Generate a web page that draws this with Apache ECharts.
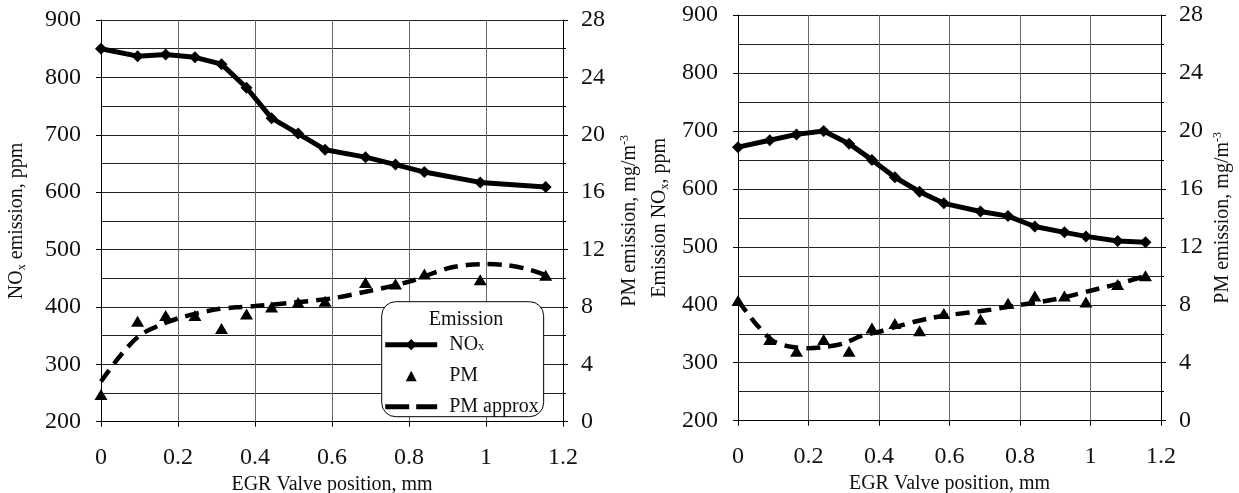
<!DOCTYPE html>
<html>
<head>
<meta charset="utf-8">
<script src="https://cdn.jsdelivr.net/npm/echarts@6/dist/echarts.min.js"></script>
<style>
html,body{margin:0;padding:0;background:#fff;}
#chart{width:1239px;height:493px;}
</style>
</head>
<body>
<div id="chart"></div>
<script>
// ---- Left chart data ----
const xLeft = [0, 0.095, 0.168, 0.244, 0.313, 0.378, 0.443, 0.512, 0.582, 0.687, 0.765, 0.84, 0.985, 1.155];
const noxLeft = [850, 837, 840, 835, 823, 782, 729, 702, 674, 661, 648, 635, 617, 609];
const pmLeft = [1.9, 7.0, 7.4, 7.4, 6.5, 7.5, 8.0, 8.3, 8.4, 9.7, 9.6, 10.3, 9.9, 10.2];
const pmApproxXLeft = [0, 0.05, 0.1, 0.15, 0.2, 0.25, 0.3, 0.35, 0.4, 0.5, 0.6, 0.7, 0.8, 0.9, 0.95, 1.0, 1.05, 1.1, 1.155];
const pmApproxLeft = [2.8, 4.6, 6.0, 6.7, 7.2, 7.55, 7.83, 7.97, 8.06, 8.3, 8.6, 9.13, 9.76, 10.69, 10.92, 10.99, 10.92, 10.69, 10.22];

// ---- Right chart data ----
const xRight = [0, 0.09, 0.166, 0.243, 0.315, 0.38, 0.445, 0.515, 0.584, 0.688, 0.766, 0.842, 0.926, 0.987, 1.077, 1.156];
const noxRight = [672, 684, 694, 700, 678, 650, 620, 595, 575, 561, 553, 535, 525, 518, 510, 508];
const pmRight = [8.3, 5.6, 4.8, 5.6, 4.8, 6.4, 6.7, 6.2, 7.4, 7.0, 8.1, 8.6, 8.6, 8.2, 9.4, 10.0];
const pmApproxXRight = [0, 0.05, 0.1, 0.15, 0.2, 0.25, 0.3, 0.35, 0.4, 0.45, 0.5, 0.55, 0.6, 0.7, 0.8, 0.9, 1.0, 1.1, 1.156];
const pmApproxRight = [8.3, 6.7, 5.5, 5.1, 5.0, 5.1, 5.34, 5.85, 6.14, 6.49, 6.83, 7.1, 7.3, 7.6, 7.99, 8.38, 8.97, 9.59, 9.99];

// ---- Axis settings ----
const xMin = 0, xMax = 1.2, xStep = 0.2;
const noxMin = 200, noxMax = 900, noxStep = 100;
const pmMin = 0, pmMax = 28, pmStep = 4;

const seriesNames = ['NOx', 'PM', 'PM approx'];
const FONT = "'Liberation Serif', 'Times New Roman', serif";
const INK = '#111';

function pairs(xs, ys) { return xs.map((x, i) => [x, ys[i]]); }

const richName = {
  n: {fontFamily: FONT, fontSize: 20, color: INK, lineHeight: 22},
  sub: {fontFamily: FONT, fontSize: 12, color: INK, lineHeight: 12, verticalAlign: 'bottom'},
  sup: {fontFamily: FONT, fontSize: 12, color: INK, lineHeight: 12, verticalAlign: 'top'}
};

function xAxisCfg(gridIndex) {
  return {
    type: 'value', gridIndex, min: xMin, max: xMax, interval: xStep,
    name: 'EGR Valve position, mm', nameLocation: 'middle', nameGap: 41,
    nameTextStyle: {fontFamily: FONT, fontSize: 20, color: INK},
    axisLine: {show: true, lineStyle: {color: '#000', width: 1}},
    axisTick: {show: true, length: 5, lineStyle: {color: '#000'}},
    axisLabel: {fontFamily: FONT, fontSize: 24, color: INK, margin: 24},
    splitLine: {show: true, lineStyle: {color: '#666', width: 1}}
  };
}
function noxAxisCfg(gridIndex, name, gap) {
  return {
    type: 'value', gridIndex, position: 'left', min: noxMin, max: noxMax, interval: noxStep,
    name, nameLocation: 'middle', nameRotate: 90, nameGap: gap,
    nameTextStyle: {rich: richName},
    axisLine: {show: true, lineStyle: {color: '#000', width: 1}},
    axisTick: {show: true, length: 5, lineStyle: {color: '#000'}},
    axisLabel: {fontFamily: FONT, fontSize: 24, color: INK, margin: 20},
    splitLine: {show: true, lineStyle: {color: '#222', width: 1}}
  };
}
function pmAxisCfg(gridIndex, name, gap) {
  return {
    type: 'value', gridIndex, position: 'right', min: pmMin, max: pmMax, interval: pmStep,
    name, nameLocation: 'middle', nameRotate: 90, nameGap: gap,
    nameTextStyle: {rich: richName},
    axisLine: {show: true, lineStyle: {color: '#000', width: 1}},
    axisTick: {show: true, length: 5, lineStyle: {color: '#000'}},
    minorTick: {show: true, splitNumber: 2, length: 3, lineStyle: {color: '#000'}},
    axisLabel: {fontFamily: FONT, fontSize: 24, color: INK, margin: 18},
    splitLine: {show: false},
    minorSplitLine: {show: true, lineStyle: {color: '#222', width: 1}}
  };
}

function chartSeries(idx, xs, nox, pm, ax, ay, suffix) {
  return [
    {
      name: seriesNames[0] + suffix, type: 'line', xAxisIndex: idx, yAxisIndex: idx * 2,
      data: pairs(xs, nox), symbol: 'diamond', symbolSize: 12,
      itemStyle: {color: '#000', opacity: 1}, lineStyle: {color: '#000', width: 5}, z: 5
    },
    {
      name: seriesNames[1] + suffix, type: 'scatter', xAxisIndex: idx, yAxisIndex: idx * 2 + 1,
      data: pairs(xs, pm), symbol: 'triangle', symbolSize: [13, 11],
      itemStyle: {color: '#000', opacity: 1}, z: 4
    },
    {
      name: seriesNames[2] + suffix, type: 'line', xAxisIndex: idx, yAxisIndex: idx * 2 + 1,
      data: pairs(ax, ay), smooth: 0.3, showSymbol: false, symbol: 'none',
      itemStyle: {color: '#000', opacity: 1}, lineStyle: {color: '#000', width: 4.5, type: [14, 8]}, z: 3
    }
  ];
}

// legend icons (fixed 52 x 14 box; degenerate points set the box extent)
const triIcon = 'path://M0,0L0,0Z M52,14L52,14Z M20.5,12.5L26,2L31.5,12.5Z';
const dashIcon = 'path://M0,0L0,0Z M52,14L52,14Z M0,4.5h24v5h-24z M31,4.5h21v5h-21z';

const chart = echarts.init(document.getElementById('chart'), null, {renderer: 'canvas'});
const option = {
  animation: false,
  backgroundColor: '#fff',
  title: [{
    text: 'Emission', left: 461, top: 305, textAlign: 'center', z: 10,
    textStyle: {fontFamily: FONT, fontSize: 20, fontWeight: 'normal', color: INK}
  }],
  grid: [
    {left: 101, top: 20, width: 462, height: 401.7, containLabel: false, outerBoundsMode: 'none'},
    {left: 738, top: 15, width: 423, height: 405.7, containLabel: false, outerBoundsMode: 'none'}
  ],
  xAxis: [xAxisCfg(0), xAxisCfg(1)],
  yAxis: [
    noxAxisCfg(0, '{n|NO}{sub|x}{n| emission, ppm}', 73),
    pmAxisCfg(0, '{n|PM emission, mg/m}{sup|-3}', 56),
    noxAxisCfg(1, '{n|Emission NO}{sub|x}{n|, ppm}', 67),
    pmAxisCfg(1, '{n|PM emission, mg/m}{sup|-3}', 51)
  ],
  legend: {
    show: true, orient: 'vertical', left: 381.7, top: 301.7,
    data: [
      {name: seriesNames[0]},
      {name: seriesNames[1], icon: triIcon},
      {name: seriesNames[2], icon: dashIcon}
    ],
    itemWidth: 52, itemHeight: 14, itemGap: 11,
    padding: [33, 5, 0, 1],
    backgroundColor: '#fff', borderColor: '#000', borderWidth: 1, borderRadius: 14,
    lineStyle: {width: 5},
    itemStyle: {color: '#000', opacity: 1},
    formatter: name => name === 'NOx' ? '{n|NO}{sub|x}' : '{n|' + name + '}',
    textStyle: {
      padding: [0, 0, 0, 7],
      rich: {
        n: {fontFamily: FONT, fontSize: 20, color: INK, lineHeight: 16},
        sub: {fontFamily: FONT, fontSize: 12, color: INK, lineHeight: 8, verticalAlign: 'bottom'}
      }
    }
  },
  series: [
    ...chartSeries(0, xLeft, noxLeft, pmLeft, pmApproxXLeft, pmApproxLeft, ''),
    ...chartSeries(1, xRight, noxRight, pmRight, pmApproxXRight, pmApproxRight, ' ')
  ]
};
chart.setOption(option);
</script>
</body>
</html>
